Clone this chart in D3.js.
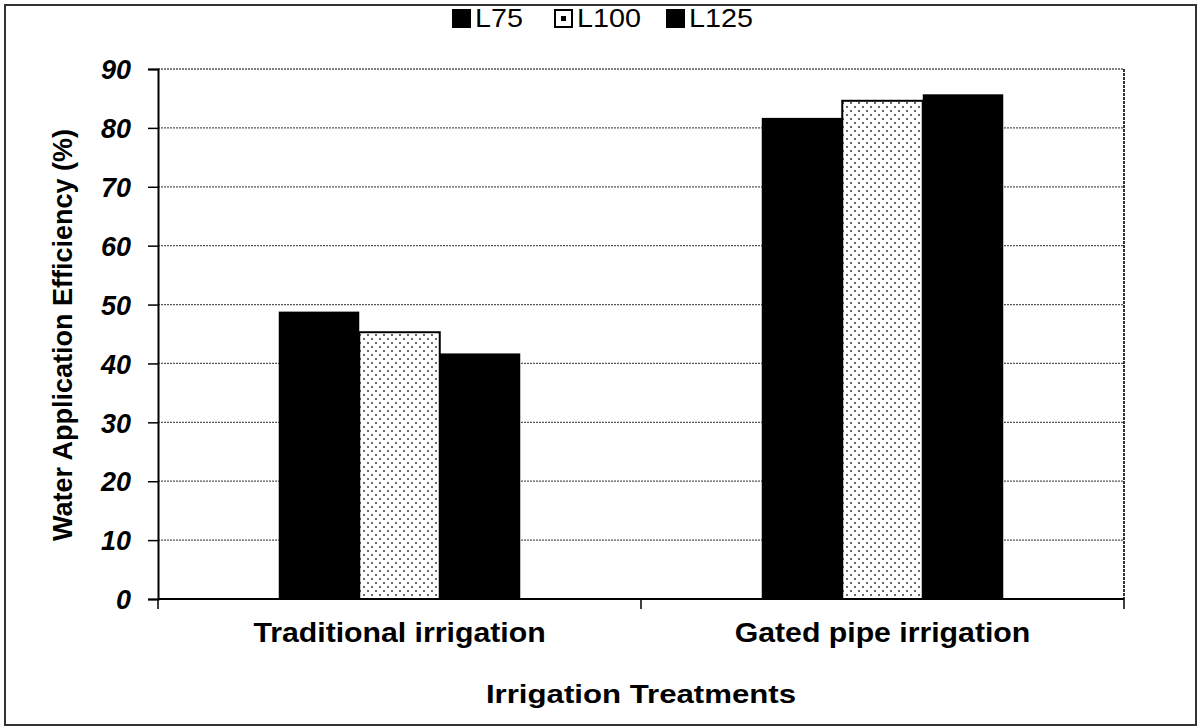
<!DOCTYPE html>
<meta charset="utf-8">
<style>
body { margin: 0; background: #fff; }
svg text { font-family: "Liberation Sans", Arial, sans-serif; fill: #000; }
.grid line { stroke: #555; stroke-width: 1.3; stroke-dasharray: 2,1; }
</style>
<body>
<svg width="1204" height="727"></svg>
<script src="https://cdn.jsdelivr.net/npm/d3@7"></script>
<script>

// data
var categories = ["Traditional irrigation", "Gated pipe irrigation"];
var series = ["L75", "L100", "L125"];
var valuesL75 = [48.8, 81.7];
var valuesL100 = [45.3, 84.6];
var valuesL125 = [41.7, 85.7];
var yTicks = [0, 10, 20, 30, 40, 50, 60, 70, 80, 90];

var rows = categories.map(function(c, i) {
  return { cat: c, vals: [valuesL75[i], valuesL100[i], valuesL125[i]] };
});

var svg = d3.select("svg");

var margin = { left: 158, right: 80, top: 69, bottom: 128 };
var width = 1204 - margin.left - margin.right,
    height = 727 - margin.top - margin.bottom;

// stipple fill for L100
var defs = svg.append("defs");
var pat = defs.append("pattern")
    .attr("id", "dots")
    .attr("patternUnits", "userSpaceOnUse")
    .attr("width", 8).attr("height", 8);
pat.append("rect").attr("width", 8).attr("height", 8).attr("fill", "#fff");
pat.append("circle").attr("cx", 2).attr("cy", 2).attr("r", 0.9).attr("fill", "#222");
pat.append("circle").attr("cx", 6).attr("cy", 6).attr("r", 0.9).attr("fill", "#222");

var fills = { L75: "#000", L100: "url(#dots)", L125: "#000" };

// outer frame
svg.append("rect")
    .attr("x", 5).attr("y", 5)
    .attr("width", 1191).attr("height", 720)
    .attr("fill", "none")
    .attr("stroke", "#333")
    .attr("stroke-width", 2);

var g = svg.append("g").attr("transform", "translate(" + margin.left + "," + margin.top + ")");

var x0 = d3.scaleBand().domain(categories).range([0, width]);
var x1 = d3.scaleBand().domain(series)
    .range([x0.bandwidth() / 4, x0.bandwidth() * 3 / 4]);
var y = d3.scaleLinear().domain([0, 90]).range([height, 0]);

// gridlines
g.append("g").attr("class", "grid")
  .selectAll("line")
  .data(yTicks.slice(1))
  .enter().append("line")
    .attr("x1", 0).attr("x2", width)
    .attr("y1", function(d) { return y(d); })
    .attr("y2", function(d) { return y(d); });

// right edge of plot area
g.append("line")
    .attr("x1", width).attr("x2", width)
    .attr("y1", 0).attr("y2", height)
    .attr("stroke", "#333").attr("stroke-width", 2)
    .attr("stroke-dasharray", "3,1");

// bars
var groups = g.selectAll(".cat")
  .data(rows)
  .enter().append("g")
    .attr("class", "cat")
    .attr("transform", function(d) { return "translate(" + x0(d.cat) + ",0)"; });

groups.selectAll("rect")
  .data(function(d) { return d.vals.map(function(v, i) { return { s: series[i], v: v }; }); })
  .enter().append("rect")
    .attr("x", function(d) { return x1(d.s); })
    .attr("y", function(d) { return y(d.v); })
    .attr("width", x1.bandwidth())
    .attr("height", function(d) { return height - y(d.v); })
    .attr("fill", function(d) { return fills[d.s]; })
    .attr("stroke", "#000")
    .attr("stroke-width", function(d) { return d.s == "L100" ? 2 : 0; });

// y axis
var yAxis = g.append("g")
    .call(d3.axisLeft(y).tickValues(yTicks).tickSize(10).tickPadding(17));
yAxis.select(".domain").attr("stroke", "#000").attr("stroke-width", 2);
yAxis.selectAll(".tick line").attr("stroke", "#000").attr("stroke-width", 1.5);
yAxis.selectAll("text")
    .style("font-size", "27px")
    .style("font-weight", "bold")
    .style("font-style", "italic")
    .attr("dy", "0.36em");

// x axis
g.append("line")
    .attr("x1", 0).attr("x2", width)
    .attr("y1", height).attr("y2", height)
    .attr("stroke", "#000").attr("stroke-width", 2);

var bounds = [0].concat(categories.map(function(c) { return x0(c) + x0.bandwidth(); }));
g.selectAll(".xtick")
  .data(bounds)
  .enter().append("line")
    .attr("x1", function(d) { return d; }).attr("x2", function(d) { return d; })
    .attr("y1", height).attr("y2", height + 10)
    .attr("stroke", "#000").attr("stroke-width", 1.5);

g.selectAll(".xlab")
  .data(categories)
  .enter().append("text")
    .attr("text-anchor", "middle")
    .attr("transform", function(d) {
      return "translate(" + (x0(d) + x0.bandwidth() / 2) + "," + (height + 43) + ") scale(1.08,1)";
    })
    .style("font-size", "28px")
    .style("font-weight", "bold")
    .text(function(d) { return d; });

// axis titles
svg.append("text")
    .attr("text-anchor", "middle")
    .attr("transform", "translate(" + (margin.left + width / 2) + ",703) scale(1.2,1)")
    .style("font-size", "26px")
    .style("font-weight", "bold")
    .text("Irrigation Treatments");

svg.append("text")
    .attr("text-anchor", "middle")
    .attr("transform", "translate(72,335) rotate(-90)")
    .style("font-size", "27px")
    .style("font-weight", "bold")
    .text("Water Application Efficiency (%)");

// legend
var legendX = [453, 555, 667];
var legend = svg.append("g");
var items = legend.selectAll("g")
  .data(series)
  .enter().append("g")
    .attr("transform", function(d, i) { return "translate(" + legendX[i] + ",18)"; });

items.append("rect")
    .attr("x", 0).attr("y", -8)
    .attr("width", 17).attr("height", 17)
    .attr("fill", function(d) { return d == "L100" ? "#fff" : "#000"; })
    .attr("stroke", "#000")
    .attr("stroke-width", 2);

items.filter(function(d) { return d == "L100"; })
  .append("rect")
    .attr("x", 6).attr("y", -2).attr("width", 5).attr("height", 5)
    .attr("fill", "#000");

items.append("text")
    .attr("transform", "translate(22,9) scale(1.15,1)")
    .style("font-size", "25px")
    .text(function(d) { return d; });

</script>
</body>
